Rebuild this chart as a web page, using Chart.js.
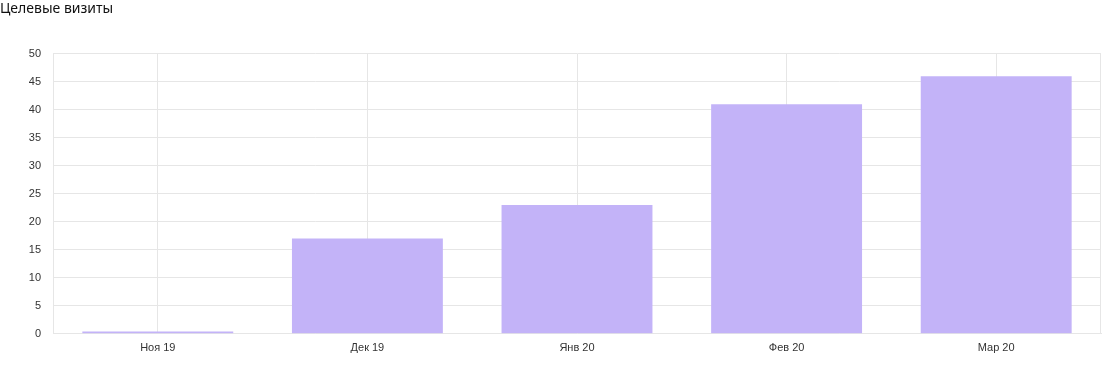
<!DOCTYPE html>
<html>
<head>
<meta charset="utf-8">
<script src="https://cdn.jsdelivr.net/npm/chart.js@4/dist/chart.umd.min.js"></script>
<style>
  html, body { margin: 0; padding: 0; background: #fff; }
  #wrap { width: 1102px; height: 369px; }
</style>
</head>
<body>
<div id="wrap"><canvas id="Canvas1"></canvas></div>
<script>
// Целевые визиты по месяцам
var labels = ["Ноя 19", "Дек 19", "Янв 20", "Фев 20", "Мар 20"];
var visits = [0.4, 17, 23, 41, 46];
var yTicks = [0, 5, 10, 15, 20, 25, 30, 35, 40, 45, 50];

// правая граница области графика
var rightEdge = {
    id: 'rightEdge',
    afterDraw: function (chart) {
        var a = chart.chartArea, ctx = chart.ctx;
        ctx.save();
        ctx.strokeStyle = '#e6e6e6';
        ctx.lineWidth = 1;
        ctx.beginPath();
        ctx.moveTo(a.right - 0.5, a.top);
        ctx.lineTo(a.right - 0.5, a.bottom);
        ctx.stroke();
        ctx.restore();
    }
};

var GKChart = document.getElementById('Canvas1').getContext('2d');
var myChart = new Chart(GKChart, {
    type: 'bar',
    data: {
        labels: labels,
        datasets: [{
            label: 'Целевые визиты',
            data: visits,
            backgroundColor: '#c3b3f8',
            borderWidth: 0,
            barPercentage: 0.72,
            categoryPercentage: 1
        }]
    },
    options: {
        responsive: true,
        maintainAspectRatio: false,
        animation: false,
        layout: { padding: { left: 0, right: 1, top: 1, bottom: 6 } },
        plugins: {
            legend: { display: false },
            tooltip: { enabled: false },
            title: {
                display: true,
                text: 'Целевые визиты',
                align: 'start',
                color: '#111',
                font: { family: 'Noto Sans', size: 14, weight: 'normal' },
                padding: { top: 0, bottom: 36 },
                fullSize: true
            }
        },
        scales: {
            x: {
                grid: { color: '#e6e6e6', offset: false, drawTicks: false },
                border: { color: '#e6e6e6' },
                ticks: {
                    color: '#333',
                    padding: 8,
                    font: { family: 'Liberation Sans', size: 11 }
                }
            },
            y: {
                min: 0,
                max: 50,
                afterBuildTicks: function (axis) {
                    axis.ticks = yTicks.map(function (v) { return { value: v }; });
                },
                afterFit: function (axis) { axis.width = 53; },
                grid: { color: '#e6e6e6', drawTicks: false },
                border: { color: '#e6e6e6' },
                ticks: {
                    color: '#333',
                    padding: 12,
                    font: { family: 'Liberation Sans', size: 11 }
                }
            }
        }
    },
    plugins: [rightEdge]
});
</script>
</body>
</html>
